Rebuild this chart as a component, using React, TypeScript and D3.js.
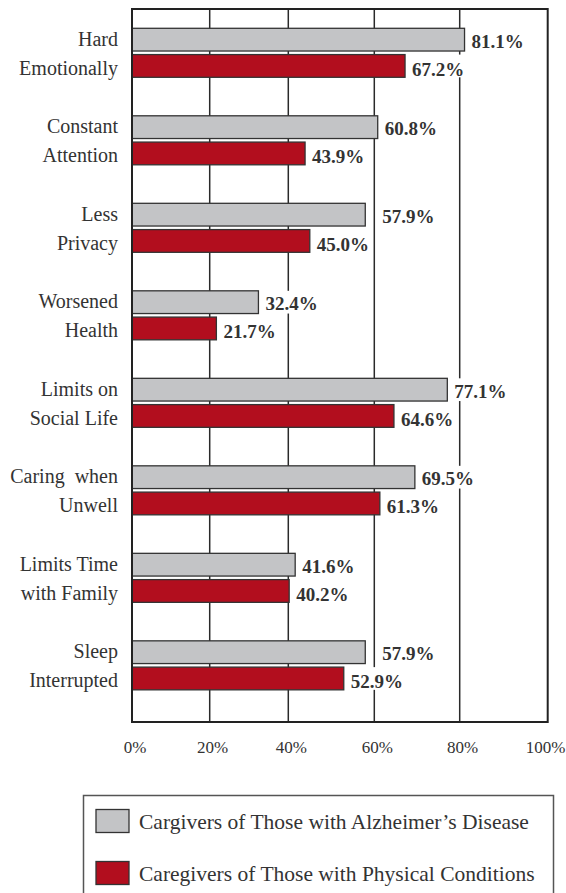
import React from "react";
import * as d3 from "d3";

const categories: string[][] = [
  ["Hard", "Emotionally"],
  ["Constant", "Attention"],
  ["Less", "Privacy"],
  ["Worsened", "Health"],
  ["Limits on", "Social Life"],
  ["Caring  when", "Unwell"],
  ["Limits Time", "with Family"],
  ["Sleep", "Interrupted"],
];
const alzheimers = [81.1, 60.8, 57.9, 32.4, 77.1, 69.5, 41.6, 57.9];
const physical = [67.2, 43.9, 45.0, 21.7, 64.6, 61.3, 40.2, 52.9];
const xTicks = [0, 20, 40, 60, 80, 100];
const seriesNames = [
  "Cargivers of Those with Alzheimer\u2019s Disease",
  "Caregivers of Those with Physical Conditions",
];
const seriesColors = ["#c3c4c6", "#b20e1e"];

const W = 566;
const H = 893;
const FONT = "'Liberation Serif', 'Times New Roman', serif";

export default function App() {
  const plotLeft = 132;
  const plotRight = 547.7;
  const plotTop = 9;
  const plotBottom = 722;

  // The source chart's gridlines are not evenly spaced; polylinear scale follows them.
  const x = d3
    .scaleLinear()
    .domain(xTicks)
    .range([plotLeft, 209.7, 288.3, 374.3, 459.7, plotRight]);

  const y = d3
    .scaleBand<number>()
    .domain(d3.range(categories.length))
    .range([plotTop, plotBottom])
    .paddingInner(0.44)
    .paddingOuter(0.294)
    .align(0.375);

  const inner = d3
    .scaleBand<number>()
    .domain([0, 1])
    .range([0, y.bandwidth()])
    .paddingInner(0.135);

  const series = [alzheimers, physical];
  const gridVals = xTicks.slice(1, -1);

  const labelX = (v: number) => {
    let lx = x(v) + 7;
    for (const g of gridVals) {
      const gx = x(g);
      if (gx >= lx - 2 && gx <= lx + 4) lx = gx + 8;
    }
    return lx;
  };

  const tickFont = 17;

  return (
    <svg
      width={W}
      height={H}
      style={{ position: "absolute", left: 0, top: 0, background: "#fff" }}
      fontFamily={FONT}
    >
      {/* gridlines */}
      {gridVals.map((g) => (
        <line
          key={"g" + g}
          x1={x(g)}
          x2={x(g)}
          y1={plotTop}
          y2={plotBottom}
          stroke="#2a2a2a"
          strokeWidth={1.5}
        />
      ))}
      {/* bars */}
      {categories.map((_, i) =>
        series.map((s, k) => (
          <rect
            key={`b${i}-${k}`}
            x={x(0)}
            y={(y(i) as number) + (inner(k) as number)}
            width={x(s[i]) - x(0)}
            height={inner.bandwidth()}
            fill={seriesColors[k]}
            stroke="#333"
            strokeWidth={1.3}
          />
        ))
      )}
      {/* value labels */}
      {categories.map((_, i) =>
        series.map((s, k) => {
          const cy = (y(i) as number) + (inner(k) as number) + inner.bandwidth() / 2;
          const lx = labelX(s[i]);
          return (
            <g key={`l${i}-${k}`}>
              <rect
                x={lx - 2}
                y={cy - inner.bandwidth() / 2}
                width={55}
                height={inner.bandwidth()}
                fill="#fff"
              />
              <text
                x={lx}
                y={cy + (k === 0 ? 8 : 10)}
                fontSize={19}
                fontWeight="bold"
                fill="#333"
              >
                {s[i].toFixed(1)}%
              </text>
            </g>
          );
        })
      )}
      {/* frame */}
      <rect
        x={plotLeft}
        y={plotTop}
        width={plotRight - plotLeft}
        height={plotBottom - plotTop}
        fill="none"
        stroke="#222"
        strokeWidth={2}
      />
      {/* category labels */}
      {categories.map((lines, i) =>
        lines.map((ln, k) => {
          const cy = (y(i) as number) + (inner(k) as number) + inner.bandwidth() / 2;
          return (
            <text
              key={`c${i}-${k}`}
              x={118}
              y={cy + (k === 0 ? 6 : 9)}
              textAnchor="end"
              fontSize={20}
              fill="#333"
              style={{ whiteSpace: "pre" }}
            >
              {ln}
            </text>
          );
        })
      )}
      {/* x tick labels */}
      {xTicks.map((t) => {
        const label = `${t}%`;
        const half = (tickFont * (label.length - 1) * 0.5 + tickFont * 0.833) / 2;
        return (
          <text
            key={"t" + t}
            x={Math.min(x(t) + 3, W - half - 0.5)}
            y={753}
            textAnchor="middle"
            fontSize={tickFont}
            fill="#333"
          >
            {label}
          </text>
        );
      })}
      {/* legend */}
      <rect
        x={83.5}
        y={795.5}
        width={470}
        height={130}
        fill="none"
        stroke="#555"
        strokeWidth={1.5}
      />
      {seriesNames.map((name, k) => (
        <g key={"lg" + k} transform={`translate(0, ${k * 52})`}>
          <rect
            x={96}
            y={809.5}
            width={33}
            height={23}
            fill={seriesColors[k]}
            stroke="#333"
            strokeWidth={1.3}
          />
          <text x={139} y={829} fontSize={21.5} fill="#333">
            {name}
          </text>
        </g>
      ))}
    </svg>
  );
}
